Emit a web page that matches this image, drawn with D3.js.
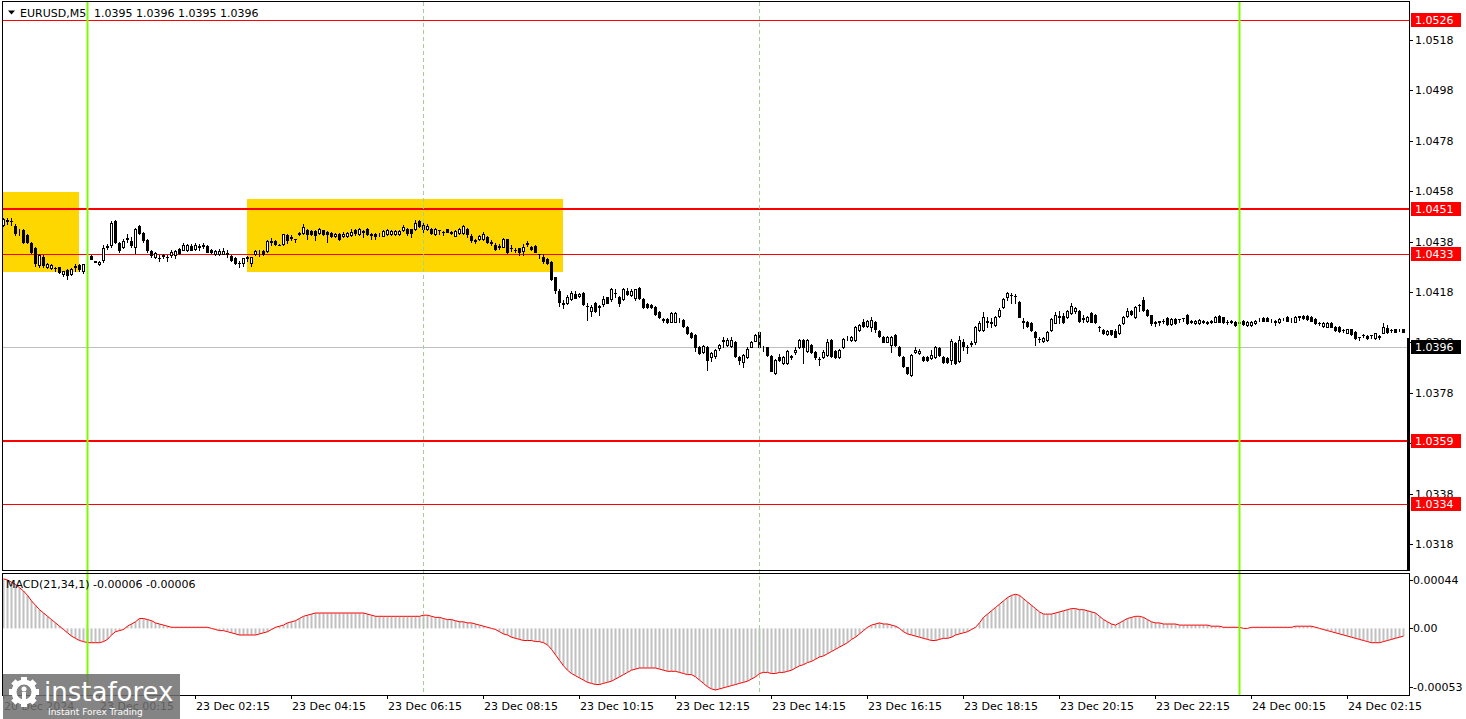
<!DOCTYPE html>
<html><head><meta charset="utf-8">
<script src="https://cdn.jsdelivr.net/npm/d3@7"></script>
<style>
body{margin:0;background:#fff;overflow:hidden}
svg{display:block}
text{font-family:"DejaVu Sans",Verdana,sans-serif;font-size:11px}
</style></head>
<body><svg id="c" width="1466" height="719"></svg>
<script>
// ---- DATA ----
const symbolTitle = "EURUSD,M5";
const titleOHLC = "1.0395 1.0396 1.0395 1.0396";
const macdTitle = "MACD(21,34,1) -0.00006 -0.00006";
const firstBar = -21; // bar index relative to 23 Dec 00:00 (M5 bars)
const openPrices = [
1.04446,1.04465,1.04463,1.04440,1.04413,1.04426,1.04406,1.04374,1.04355,1.04287,
1.04319,1.04279,1.04275,1.04277,1.04279,1.04251,1.04267,1.04251,1.04279,1.04287,
1.04263,1.04315,1.04322,1.04302,1.04290,1.04307,1.04360,1.04367,1.04460,1.04375,
1.04360,1.04390,1.04384,1.04360,1.04440,1.04415,1.04386,1.04344,1.04320,1.04316,
1.04322,1.04320,1.04327,1.04327,1.04350,1.04347,1.04347,1.04362,1.04350,1.04362,
1.04362,1.04362,1.04347,1.04330,1.04330,1.04332,1.04335,1.04323,1.04315,1.04296,
1.04294,1.04320,1.04296,1.04330,1.04337,1.04343,1.04343,1.04380,1.04382,1.04368,
1.04369,1.04405,1.04395,1.04390,1.04412,1.04413,1.04425,1.04424,1.04422,1.04413,
1.04425,1.04420,1.04416,1.04404,1.04410,1.04403,1.04403,1.04405,1.04426,1.04410,
1.04423,1.04429,1.04410,1.04412,1.04410,1.04404,1.04409,1.04409,1.04410,1.04410,
1.04426,1.04429,1.04429,1.04429,1.04462,1.04429,1.04429,1.04429,1.04410,1.04427,
1.04420,1.04429,1.04420,1.04404,1.04413,1.04413,1.04429,1.04404,1.04386,1.04389,
1.04389,1.04399,1.04378,1.04367,1.04362,1.04360,1.04389,1.04355,1.04348,1.04353,
1.04343,1.04372,1.04360,1.04362,1.04331,1.04320,1.04310,1.04300,1.04238,1.04185,
1.04135,1.04138,1.04151,1.04173,1.04165,1.04177,1.04125,1.04106,1.04135,1.04123,
1.04131,1.04159,1.04151,1.04178,1.04161,1.04151,1.04182,1.04170,1.04155,1.04197,
1.04151,1.04133,1.04130,1.04120,1.04102,1.04071,1.04072,1.04062,1.04062,1.04068,
1.04069,1.04042,1.04019,1.04010,1.03960,1.03943,1.03960,1.03921,1.03926,1.03957,
1.03986,1.03970,1.03965,1.03983,1.03923,1.03904,1.03921,1.03963,1.03987,1.04022,
1.03960,1.03960,1.03926,1.03857,1.03924,1.03897,1.03897,1.03925,1.03940,1.03960,
1.03989,1.03947,1.03970,1.03943,1.03915,1.03921,1.03930,1.03989,1.03947,1.03924,
1.03960,1.04000,1.03988,1.03989,1.04029,1.04062,1.04045,1.04040,1.04062,1.04026,
1.04001,1.03983,1.03970,1.04010,1.03963,1.03923,1.03881,1.03851,1.03940,1.03936,
1.03923,1.03922,1.03917,1.03921,1.03957,1.03923,1.03920,1.03910,1.03979,1.03907,
1.03983,1.03963,1.03975,1.03983,1.04030,1.04030,1.04062,1.04060,1.04049,1.04085,
1.04120,1.04161,1.04169,1.04165,1.04142,1.04063,1.04062,1.04056,1.04022,1.03995,
1.03985,1.03989,1.04030,1.04058,1.04083,1.04085,1.04080,1.04098,1.04106,1.04106,
1.04076,1.04066,1.04095,1.04089,1.04043,1.04030,1.04014,1.04028,1.04026,1.04019,
1.04056,1.04085,1.04106,1.04082,1.04129,1.04148,1.04108,1.04088,1.04059,1.04063,
1.04066,1.04076,1.04053,1.04072,1.04073,1.04077,1.04089,1.04063,1.04056,1.04056,
1.04060,1.04062,1.04063,1.04062,1.04085,1.04080,1.04060,1.04061,1.04062,1.04062,
1.04066,1.04049,1.04049,1.04056,1.04068,1.04076,1.04076,1.04068,1.04063,1.04059,
1.04071,1.04082,1.04071,1.04062,1.04083,1.04085,1.04085,1.04080,1.04072,1.04057,
1.04045,1.04043,1.04056,1.04043,1.04043,1.04030,1.04019,1.04032,1.04023,1.04002,
1.04010,1.04005,1.04010,1.03996,1.04004,1.04019,1.04036,1.04030,1.04032,1.04029,
1.04032];
const highPrices = [
1.04475,1.04475,1.04475,1.04450,1.04430,1.04430,1.04410,1.04380,1.04360,1.04330,
1.04325,1.04295,1.04290,1.04280,1.04280,1.04265,1.04270,1.04275,1.04290,1.04290,
1.04290,1.04325,1.04325,1.04305,1.04302,1.04365,1.04370,1.04460,1.04465,1.04380,
1.04390,1.04410,1.04400,1.04435,1.04445,1.04420,1.04390,1.04347,1.04340,1.04325,
1.04330,1.04325,1.04345,1.04345,1.04353,1.04375,1.04370,1.04370,1.04375,1.04370,
1.04375,1.04365,1.04350,1.04348,1.04350,1.04355,1.04345,1.04326,1.04318,1.04302,
1.04316,1.04322,1.04318,1.04347,1.04347,1.04345,1.04385,1.04395,1.04385,1.04370,
1.04412,1.04410,1.04405,1.04391,1.04420,1.04450,1.04430,1.04426,1.04425,1.04432,
1.04428,1.04423,1.04420,1.04415,1.04413,1.04417,1.04420,1.04430,1.04430,1.04435,
1.04425,1.04432,1.04415,1.04415,1.04415,1.04425,1.04430,1.04426,1.04427,1.04425,
1.04447,1.04432,1.04430,1.04465,1.04465,1.04452,1.04450,1.04432,1.04432,1.04428,
1.04422,1.04430,1.04422,1.04426,1.04432,1.04446,1.04432,1.04410,1.04390,1.04405,
1.04417,1.04403,1.04385,1.04375,1.04370,1.04393,1.04392,1.04365,1.04355,1.04355,
1.04370,1.04383,1.04363,1.04365,1.04332,1.04330,1.04313,1.04303,1.04240,1.04190,
1.04150,1.04170,1.04185,1.04183,1.04178,1.04180,1.04135,1.04127,1.04140,1.04130,
1.04165,1.04162,1.04195,1.04190,1.04165,1.04195,1.04195,1.04190,1.04193,1.04200,
1.04155,1.04135,1.04133,1.04123,1.04105,1.04078,1.04076,1.04102,1.04100,1.04075,
1.04072,1.04045,1.04022,1.04013,1.03964,1.03970,1.03964,1.03940,1.03953,1.03975,
1.04003,1.03996,1.04002,1.03987,1.03926,1.03935,1.03960,1.03986,1.04012,1.04025,
1.03966,1.03963,1.03930,1.03915,1.03932,1.03928,1.03950,1.03930,1.03960,1.03993,
1.03993,1.03992,1.03973,1.03946,1.03922,1.03950,1.03992,1.03992,1.03950,1.03953,
1.03996,1.04005,1.04005,1.04047,1.04053,1.04071,1.04068,1.04082,1.04065,1.04030,
1.04005,1.04005,1.04006,1.04013,1.03966,1.03926,1.03884,1.03935,1.03960,1.03953,
1.03926,1.03925,1.03951,1.03967,1.03960,1.03926,1.03923,1.03992,1.03983,1.04005,
1.03995,1.03970,1.03985,1.04045,1.04065,1.04100,1.04082,1.04075,1.04084,1.04115,
1.04155,1.04181,1.04175,1.04173,1.04145,1.04075,1.04065,1.04059,1.04025,1.04000,
1.04002,1.04025,1.04075,1.04100,1.04103,1.04095,1.04110,1.04135,1.04120,1.04110,
1.04090,1.04085,1.04099,1.04093,1.04046,1.04033,1.04030,1.04030,1.04033,1.04053,
1.04086,1.04115,1.04110,1.04126,1.04132,1.04160,1.04112,1.04090,1.04063,1.04065,
1.04072,1.04080,1.04076,1.04075,1.04074,1.04078,1.04092,1.04070,1.04069,1.04072,
1.04069,1.04065,1.04070,1.04083,1.04088,1.04082,1.04068,1.04070,1.04065,1.04065,
1.04069,1.04065,1.04065,1.04069,1.04078,1.04079,1.04079,1.04073,1.04068,1.04075,
1.04078,1.04085,1.04076,1.04084,1.04084,1.04088,1.04087,1.04083,1.04075,1.04062,
1.04059,1.04061,1.04059,1.04046,1.04046,1.04035,1.04035,1.04035,1.04026,1.04003,
1.04015,1.04008,1.04011,1.04019,1.04010,1.04055,1.04050,1.04035,1.04035,1.04034,
1.04035];
const lowPrices = [
1.04440,1.04450,1.04445,1.04405,1.04405,1.04375,1.04375,1.04335,1.04285,1.04280,
1.04280,1.04275,1.04270,1.04265,1.04255,1.04245,1.04232,1.04248,1.04265,1.04265,
1.04255,1.04310,1.04310,1.04298,1.04288,1.04300,1.04350,1.04360,1.04375,1.04340,
1.04355,1.04380,1.04360,1.04335,1.04410,1.04380,1.04340,1.04320,1.04315,1.04305,
1.04315,1.04305,1.04320,1.04315,1.04330,1.04345,1.04343,1.04345,1.04348,1.04345,
1.04355,1.04338,1.04335,1.04325,1.04327,1.04330,1.04320,1.04305,1.04292,1.04278,
1.04285,1.04305,1.04285,1.04325,1.04323,1.04327,1.04340,1.04365,1.04367,1.04365,
1.04367,1.04375,1.04385,1.04379,1.04405,1.04410,1.04390,1.04408,1.04388,1.04410,
1.04407,1.04378,1.04400,1.04400,1.04387,1.04400,1.04400,1.04402,1.04405,1.04407,
1.04400,1.04405,1.04390,1.04392,1.04403,1.04402,1.04407,1.04405,1.04408,1.04408,
1.04423,1.04406,1.04397,1.04425,1.04439,1.04415,1.04425,1.04410,1.04408,1.04410,
1.04408,1.04418,1.04412,1.04402,1.04410,1.04410,1.04400,1.04380,1.04373,1.04385,
1.04385,1.04373,1.04368,1.04347,1.04350,1.04357,1.04336,1.04342,1.04338,1.04325,
1.04325,1.04362,1.04345,1.04337,1.04315,1.04295,1.04293,1.04227,1.04178,1.04123,
1.04115,1.04133,1.04148,1.04155,1.04162,1.04130,1.04068,1.04085,1.04100,1.04090,
1.04125,1.04135,1.04145,1.04160,1.04125,1.04148,1.04170,1.04165,1.04150,1.04152,
1.04115,1.04115,1.04117,1.04090,1.04078,1.04061,1.04058,1.04060,1.04060,1.04060,
1.04042,1.04015,1.03996,1.03946,1.03932,1.03938,1.03870,1.03905,1.03920,1.03950,
1.03962,1.03965,1.03960,1.03922,1.03893,1.03882,1.03918,1.03960,1.03984,1.03956,
1.03945,1.03926,1.03865,1.03853,1.03905,1.03893,1.03893,1.03915,1.03933,1.03957,
1.03897,1.03943,1.03936,1.03916,1.03891,1.03918,1.03927,1.03922,1.03920,1.03920,
1.03957,1.03990,1.03985,1.03986,1.04025,1.04040,1.04042,1.04027,1.04023,1.04000,
1.03980,1.03980,1.03940,1.03966,1.03926,1.03882,1.03854,1.03848,1.03937,1.03933,
1.03907,1.03907,1.03914,1.03917,1.03927,1.03900,1.03897,1.03895,1.03893,1.03903,
1.03950,1.03939,1.03965,1.03975,1.04026,1.04026,1.04043,1.04040,1.04045,1.04080,
1.04115,1.04149,1.04135,1.04137,1.04079,1.04039,1.04042,1.04026,1.03970,1.03982,
1.03981,1.03986,1.04026,1.04055,1.04057,1.04055,1.04076,1.04094,1.04098,1.04062,
1.04059,1.04062,1.04059,1.04055,1.04027,1.04015,1.04010,1.04010,1.04000,1.04015,
1.04052,1.04081,1.04089,1.04078,1.04104,1.04105,1.04086,1.04050,1.04045,1.04050,
1.04058,1.04050,1.04050,1.04053,1.04060,1.04065,1.04053,1.04055,1.04054,1.04054,
1.04058,1.04054,1.04055,1.04060,1.04060,1.04056,1.04053,1.04055,1.04046,1.04053,
1.04050,1.04046,1.04046,1.04053,1.04065,1.04063,1.04063,1.04060,1.04050,1.04056,
1.04067,1.04063,1.04062,1.04059,1.04070,1.04073,1.04069,1.04063,1.04053,1.04050,
1.04042,1.04040,1.04040,1.04026,1.04023,1.04020,1.04016,1.04010,1.03993,1.03988,
1.04000,1.03993,1.03999,1.03993,1.03995,1.04016,1.04019,1.04022,1.04020,1.04024,
1.04020];
const closePrices = [
1.04470,1.04463,1.04460,1.04413,1.04416,1.04380,1.04380,1.04339,1.04295,1.04327,
1.04287,1.04291,1.04287,1.04275,1.04259,1.04263,1.04247,1.04271,1.04283,1.04270,
1.04290,1.04316,1.04312,1.04300,1.04300,1.04355,1.04363,1.04454,1.04380,1.04347,
1.04383,1.04395,1.04367,1.04429,1.04413,1.04386,1.04347,1.04327,1.04333,1.04314,
1.04325,1.04318,1.04340,1.04343,1.04335,1.04365,1.04365,1.04347,1.04365,1.04360,
1.04365,1.04340,1.04340,1.04344,1.04344,1.04344,1.04332,1.04307,1.04296,1.04294,
1.04314,1.04313,1.04318,1.04343,1.04340,1.04330,1.04382,1.04383,1.04370,1.04367,
1.04409,1.04386,1.04397,1.04389,1.04414,1.04439,1.04410,1.04410,1.04408,1.04429,
1.04410,1.04410,1.04404,1.04410,1.04390,1.04411,1.04416,1.04417,1.04413,1.04429,
1.04420,1.04409,1.04408,1.04403,1.04411,1.04422,1.04426,1.04422,1.04422,1.04423,
1.04439,1.04416,1.04416,1.04453,1.04442,1.04447,1.04442,1.04413,1.04429,1.04425,
1.04419,1.04420,1.04414,1.04424,1.04429,1.04442,1.04410,1.04386,1.04384,1.04402,
1.04409,1.04379,1.04376,1.04350,1.04360,1.04389,1.04340,1.04353,1.04345,1.04340,
1.04358,1.04374,1.04349,1.04340,1.04329,1.04304,1.04296,1.04230,1.04188,1.04140,
1.04133,1.04161,1.04177,1.04158,1.04174,1.04132,1.04123,1.04122,1.04106,1.04122,
1.04151,1.04138,1.04190,1.04176,1.04138,1.04190,1.04173,1.04182,1.04190,1.04155,
1.04120,1.04120,1.04120,1.04093,1.04082,1.04068,1.04060,1.04098,1.04096,1.04069,
1.04045,1.04019,1.04000,1.03963,1.03939,1.03966,1.03910,1.03937,1.03950,1.03970,
1.03988,1.03989,1.03989,1.03926,1.03910,1.03930,1.03953,1.03983,1.04009,1.03960,
1.03961,1.03930,1.03868,1.03910,1.03910,1.03923,1.03947,1.03923,1.03950,1.03989,
1.03960,1.03989,1.03940,1.03921,1.03913,1.03943,1.03983,1.03926,1.03924,1.03949,
1.03992,1.04001,1.04000,1.04042,1.04049,1.04045,1.04065,1.04068,1.04033,1.04005,
1.03983,1.04000,1.04003,1.03970,1.03930,1.03886,1.03857,1.03930,1.03950,1.03946,
1.03910,1.03910,1.03930,1.03963,1.03930,1.03904,1.03904,1.03987,1.03897,1.03989,
1.03966,1.03962,1.03977,1.04042,1.04058,1.04082,1.04064,1.04058,1.04080,1.04109,
1.04151,1.04175,1.04167,1.04163,1.04082,1.04060,1.04045,1.04030,1.04000,1.03993,
1.03999,1.04022,1.04072,1.04089,1.04081,1.04059,1.04106,1.04124,1.04116,1.04066,
1.04074,1.04082,1.04062,1.04059,1.04041,1.04019,1.04026,1.04014,1.04003,1.04049,
1.04082,1.04106,1.04093,1.04122,1.04127,1.04108,1.04090,1.04055,1.04057,1.04061,
1.04064,1.04053,1.04072,1.04056,1.04071,1.04075,1.04056,1.04061,1.04066,1.04069,
1.04066,1.04056,1.04062,1.04080,1.04062,1.04060,1.04059,1.04063,1.04049,1.04056,
1.04053,1.04062,1.04062,1.04066,1.04069,1.04066,1.04066,1.04069,1.04061,1.04072,
1.04072,1.04066,1.04073,1.04080,1.04081,1.04076,1.04072,1.04066,1.04056,1.04055,
1.04056,1.04058,1.04043,1.04029,1.04027,1.04028,1.04032,1.04013,1.03996,1.04000,
1.04008,1.03996,1.04008,1.04016,1.04002,1.04040,1.04023,1.04028,1.04023,1.04030,
1.04023];
// MACD(21,34,1) histogram per bar, in units of 0.00001 (signal equals main)
const macdPoints = [
45,44,42,40,37,34,30,25,21,17,14,11,8,5,2,-1,-4,-7,-9,-11,-12,
-13,-13,-13,-13,-12,-10,-6,-3,-2,-1,
2,4,6,9,9,8,7,5,4,3,
2,1,1,1,1,1,1,1,1,1,
1,0,-1,-2,-2,-3,-4,-5,-6,-6,
-6,-6,-6,-5,-4,-3,-1,1,2,3,
5,6,7,9,11,12,13,14,14,14,
14,14,14,14,14,14,14,14,14,14,
13,12,11,11,11,11,11,11,11,11,
11,11,11,11,12,12,11,10,10,9,
8,8,7,6,6,5,5,4,3,2,
1,0,-1,-3,-5,-6,-8,-9,-10,-11,
-11,-11,-12,-12,-13,-15,-19,-24,-29,-34,
-38,-41,-43,-45,-47,-49,-50,-51,-51,-50,
-49,-48,-46,-44,-42,-40,-38,-37,-36,-36,
-36,-36,-36,-37,-38,-39,-39,-39,-40,-41,
-42,-42,-44,-47,-50,-53,-55,-56,-55,-54,
-53,-52,-51,-50,-49,-48,-46,-44,-41,-40,
-40,-41,-41,-40,-40,-39,-38,-36,-34,-33,
-31,-30,-28,-26,-25,-23,-21,-19,-17,-15,
-13,-10,-8,-5,-2,1,3,4,5,4,
4,3,2,0,-3,-5,-6,-7,-8,-9,
-10,-11,-11,-10,-9,-9,-8,-6,-5,-4,
-3,-1,1,5,10,13,16,19,22,25,
28,30,31,30,27,24,21,18,15,13,
13,13,14,15,16,17,18,18,17,17,
16,15,14,11,8,6,4,3,5,7,
9,10,11,11,10,8,6,5,5,4,
4,4,4,3,3,3,3,3,3,3,
3,2,2,2,1,1,1,1,1,0,
0,1,1,1,1,1,1,1,1,1,
1,1,2,2,2,2,2,1,0,-1,
-2,-3,-4,-5,-6,-7,-8,-9,-10,-11,
-12,-13,-13,-13,-12,-11,-10,-9,-8,-7];
const MACD_UNIT = 0.00001;

const priceTicks = [1.0518,1.0498,1.0478,1.0458,1.0438,1.0418,1.0398,1.0378,1.0358,1.0338,1.0318];
const levelPrices = [1.0526,1.0451,1.0433,1.0359,1.0334];
const levelLabels = ["1.0526","1.0451","1.0433","1.0359","1.0334"];
const levelWidths = [1,2,1,2,1];
const bidPrice = 1.0396, bidLabel = "1.0396";
const macdTicks = [0.00044, 0, -0.00053];
const macdTickLabels = ["0.00044","0.00","-0.00053"];
const timeTickBars = [-21,3,27,51,75,99,123,147,171,195,219,243,267,291,315];
const timeTickLabels = ["20 Dec 2024","23 Dec 00:15","23 Dec 02:15","23 Dec 04:15","23 Dec 06:15","23 Dec 08:15","23 Dec 10:15","23 Dec 12:15","23 Dec 14:15","23 Dec 16:15","23 Dec 18:15","23 Dec 20:15","23 Dec 22:15","24 Dec 00:15","24 Dec 02:15"];
const dayLineBars = [0, 288];       // 23 Dec 00:00, 24 Dec 00:00
const dashedLineBars = [84, 168];   // 23 Dec 07:00, 23 Dec 14:00
const boxStartBar = [-21, 40];
const boxEndBar = [-2, 119];
const boxTop = [1.04578, 1.04549];
const boxBottom = [1.04261, 1.04261];

// ---- LAYOUT ----
const L = 2, R = 1409, mainTop = 1, mainBot = 570, macdTop = 573, macdBot = 695;
const svg = d3.select('#c');
const x = d3.scaleLinear().domain([0, 288]).range([87, 1239]);
const y = d3.scaleLinear().domain([1.0318, 1.0518]).range([544, 40]);
const ym = d3.scaleLinear().domain([-0.00053, 0.00044]).range([686.7, 580]);

const defs = svg.append('defs');
defs.append('clipPath').attr('id','clipMain').append('rect').attr('x',L+1).attr('y',mainTop+1).attr('width',R-L-1).attr('height',mainBot-mainTop-1);
defs.append('clipPath').attr('id','clipMacd').append('rect').attr('x',L+1).attr('y',macdTop+1).attr('width',R-L-1).attr('height',macdBot-macdTop-1);

const bars = closePrices.map((c,k)=>({b:firstBar+k,o:openPrices[k],h:highPrices[k],l:lowPrices[k],c:c,m:macdPoints[k]*MACD_UNIT}));

// yellow boxes
const gMain = svg.append('g').attr('clip-path','url(#clipMain)');
gMain.selectAll('rect.box').data(boxStartBar.map((s,i)=>({s,e:boxEndBar[i],t:boxTop[i],bt:boxBottom[i]})))
 .join('rect').attr('x',d=>Math.round(x(d.s))).attr('y',d=>Math.round(y(d.t)))
 .attr('width',d=>Math.round(x(d.e))-Math.round(x(d.s))).attr('height',d=>Math.round(y(d.bt))-Math.round(y(d.t)))
 .attr('fill','#ffd700');

// bid line
gMain.append('line').attr('x1',L).attr('x2',R).attr('y1',Math.round(y(bidPrice))+0.5).attr('y2',Math.round(y(bidPrice))+0.5)
 .attr('stroke','#c0c0c0').attr('stroke-width',1);

// level lines
levelPrices.forEach((p,i)=>{
  const yy = Math.round(y(p)) + (levelWidths[i]===1?0.5:0);
  gMain.append('line').attr('x1',L).attr('x2',R).attr('y1',yy).attr('y2',yy).attr('stroke','#ff0000').attr('stroke-width',levelWidths[i]);
});

// vertical lines (span both panels)
const gV = svg.append('g');
dashedLineBars.forEach(b=>{
  const xx = Math.round(x(b))+0.5;
  gV.append('line').attr('x1',xx).attr('x2',xx).attr('y1',mainTop+1).attr('y2',macdBot).attr('stroke','#a6cf92').attr('stroke-width',1).attr('stroke-dasharray','4,3');
});

// candles
const gC = gMain.append('g');
bars.forEach(d=>{
  const cx = Math.round(x(d.b));
  const hi = Math.max(d.h,d.o,d.c), lo = Math.min(d.l,d.o,d.c);
  const yh = Math.round(y(hi)), yl = Math.round(y(lo));
  const yo = Math.round(y(d.o)), yc = Math.round(y(d.c));
  const top = Math.min(yo,yc), bot = Math.max(yo,yc);
  gC.append('rect').attr('x',cx).attr('y',yh).attr('width',1).attr('height',yl-yh+1).attr('fill','#000');
  if (d.c >= d.o) {
    gC.append('rect').attr('x',cx-0.5).attr('y',top+0.5).attr('width',2).attr('height',bot-top)
      .attr('fill','#fff').attr('stroke','#000').attr('stroke-width',1);
  } else {
    gC.append('rect').attr('x',cx-1).attr('y',top).attr('width',3).attr('height',bot-top+1).attr('fill','#000');
  }
});

// MACD
const gM = svg.append('g').attr('clip-path','url(#clipMacd)');
const y0 = ym(0);
gM.selectAll('rect.h').data(bars).join('rect')
  .attr('x',d=>Math.round(x(d.b))-0.5).attr('width',2)
  .attr('y',d=>Math.min(ym(d.m),y0)).attr('height',d=>Math.abs(ym(d.m)-y0))
  .attr('fill','#c0c0c0');
gM.append('path').datum(bars).attr('fill','none').attr('stroke','#ff0000').attr('stroke-width',1)
  .attr('d',d3.line().x(d=>Math.round(x(d.b))+0.5).y(d=>ym(d.m)));

// green day lines
dayLineBars.forEach(b=>{
  const xx = Math.round(x(b))+0.5;
  gV.append('line').attr('x1',xx).attr('x2',xx).attr('y1',mainTop).attr('y2',macdBot).attr('stroke','#7cfc00').attr('stroke-width',2);
});
gV.raise();

// frames
svg.append('rect').attr('x',L+0.5).attr('y',mainTop+0.5).attr('width',R-L).attr('height',mainBot-mainTop).attr('fill','none').attr('stroke','#000');
svg.append('rect').attr('x',L+0.5).attr('y',macdTop+0.5).attr('width',R-L).attr('height',macdBot-macdTop).attr('fill','none').attr('stroke','#000');
svg.append('rect').attr('x',R-2).attr('y',338).attr('width',3).attr('height',mainBot-338).attr('fill','#000');

// price axis
const gA = svg.append('g');
priceTicks.forEach(p=>{
  const yy = Math.round(y(p));
  gA.append('line').attr('x1',R).attr('x2',R+4).attr('y1',yy+0.5).attr('y2',yy+0.5).attr('stroke','#000');
  gA.append('text').attr('x',R+6).attr('y',yy+4).attr('fill','#000').text(d3.format('.4f')(p));
});
levelPrices.forEach((p,i)=>{
  const yy = Math.round(y(p));
  gA.append('rect').attr('x',R+2).attr('y',yy-7).attr('width',50).attr('height',14).attr('fill','#ff0000');
  gA.append('text').attr('x',R+6).attr('y',yy+4).attr('fill','#fff').text(levelLabels[i]);
});
{
  const yy = Math.round(y(bidPrice));
  gA.append('rect').attr('x',R+2).attr('y',yy-7).attr('width',50).attr('height',14).attr('fill','#000');
  gA.append('text').attr('x',R+6).attr('y',yy+4).attr('fill','#fff').text(bidLabel);
}
// macd axis
macdTicks.forEach((v,i)=>{
  const yy = Math.round(ym(v));
  gA.append('line').attr('x1',R).attr('x2',R+4).attr('y1',yy+0.5).attr('y2',yy+0.5).attr('stroke','#000');
  gA.append('text').attr('x',R+4).attr('y',yy+4).attr('fill','#000').text(macdTickLabels[i]);
});
// time axis
timeTickBars.forEach((b,i)=>{
  const xx = Math.max(L, Math.round(x(b)));
  gA.append('line').attr('x1',xx+0.5).attr('x2',xx+0.5).attr('y1',macdBot).attr('y2',macdBot+4).attr('stroke','#000');
  gA.append('text').attr('x',xx+1).attr('y',macdBot+15).attr('fill','#000').text(timeTickLabels[i]);
});

// titles
svg.append('path').attr('d','M8,10.5 L15,10.5 L11.5,14.5 Z').attr('fill','#000');
svg.append('text').attr('x',20).attr('y',17).attr('fill','#000').text(symbolTitle);
svg.append('text').attr('x',94).attr('y',17).attr('fill','#000').text(titleOHLC);
svg.append('text').attr('x',6).attr('y',588).attr('fill','#000').text(macdTitle);

// watermark
const wm = svg.append('g');
wm.append('rect').attr('x',3).attr('y',674).attr('width',177).attr('height',45).attr('fill','#6f6f6f').attr('opacity',0.85);
const gear = wm.append('g').attr('transform','translate(24,692)');
d3.range(8).forEach(k=>{
  gear.append('rect').attr('x',-3).attr('y',-15).attr('width',6).attr('height',7).attr('fill','#fff')
    .attr('transform',`rotate(${k*45})`);
});
gear.append('circle').attr('r',10).attr('fill','none').attr('stroke','#fff').attr('stroke-width',5);
gear.append('circle').attr('cy',-3).attr('r',2.5).attr('fill','#fff');
gear.append('rect').attr('x',-2).attr('y',0).attr('width',4).attr('height',9).attr('fill','#fff');
wm.append('text').attr('x',44).attr('y',701).attr('fill','#fff').style('font-size','26px').text('instaforex');
wm.append('text').attr('x',48).attr('y',715).attr('fill','#fff').style('font-size','9px').text('Instant Forex Trading');
</script></body></html>
